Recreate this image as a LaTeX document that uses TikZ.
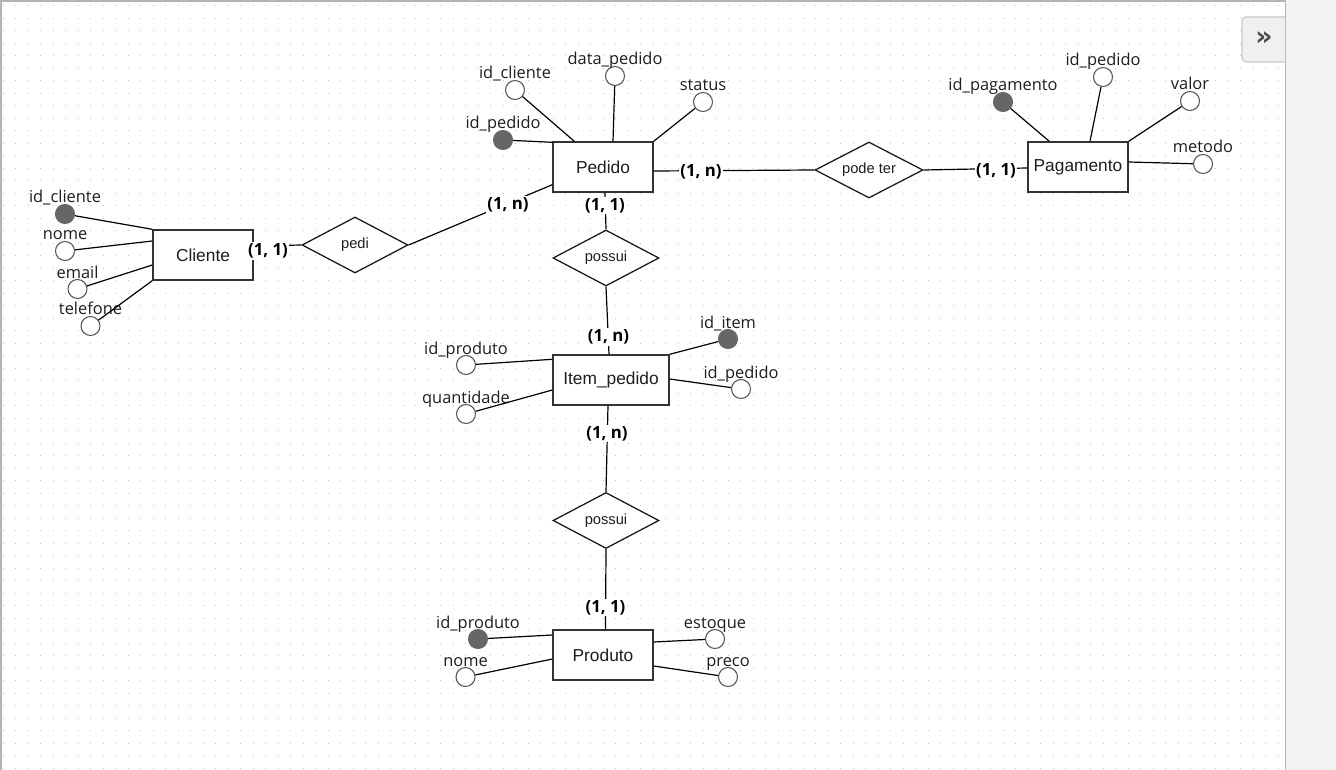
\documentclass[tikz,border=0pt]{standalone}
\usepackage{fontspec}
\setmainfont{Open Sans}
\newfontfamily\boxfont{Liberation Sans}
\newfontfamily\symfont{DejaVu Sans}
\usetikzlibrary{shapes.geometric,calc}

\definecolor{griddot}{HTML}{C4C4C4}
\definecolor{frameline}{HTML}{B4B4B4}
\definecolor{panelbg}{HTML}{F2F2F2}
\definecolor{buttonbg}{HTML}{F0F0F0}
\definecolor{buttonline}{HTML}{C8C8C8}
\definecolor{keyfill}{HTML}{666666}
\definecolor{attrline}{HTML}{555555}
\definecolor{inkdark}{HTML}{1E1E1E}

\tikzset{
  entity/.style={draw=black!80, line width=1.05pt, fill=white, rectangle,
    minimum width=75pt, minimum height=37.5pt, inner sep=0pt,
    font=\boxfont\fontsize{13}{15}\selectfont, text=inkdark},
  relation/.style={draw=black!90, line width=0.95pt, fill=white, diamond,
    aspect=1.9, minimum width=79.5pt, minimum height=42pt, inner sep=0pt,
    font=\boxfont\fontsize{11}{13}\selectfont, text=inkdark},
  attr/.style={circle, draw=attrline, line width=0.8pt, fill=white,
    minimum size=14.25pt, inner sep=0pt},
  keyattr/.style={attr, draw=keyfill, fill=keyfill},
  attrlabel/.style={anchor=base, inner sep=0pt, text=inkdark,
    font=\fontsize{12.3}{14}\selectfont},
  card/.style={fill=white, inner sep=1pt, text=black,
    font=\bfseries\fontsize{12.6}{14}\selectfont},
  link/.style={draw=black, line width=0.9pt},
}

% attribute: style, name, x, y, text
\newcommand\attrib[5]{%
  \node[#1] (#2) at (#3,#4) {};
  \node[attrlabel] (#2-t) at (#3,#4-11) {#5};}

\begin{document}
\begin{tikzpicture}[x=0.75pt, y=-0.75pt]
\useasboundingbox (0,0) rectangle (1336,770);
\fill[white] (0,0) rectangle (1336,770);

% dotted canvas grid
\foreach \k in {0,...,61}{
  \draw[griddot, line width=0.75pt, dash pattern=on 0.75pt off 8.625pt]
    (2.9,{5.7+12.5*\k}) -- (1284,{5.7+12.5*\k});
}

% canvas frame and side panel
\draw[frameline, line width=1.2pt] (0,0.8) -- (1285,0.8);
\draw[frameline, line width=1.2pt] (0.8,0) -- (0.8,770);
\fill[panelbg] (1285,0) rectangle (1336,770);
\draw[frameline, line width=1.2pt] (1285.5,0) -- (1285.5,770);
\draw[buttonline, fill=buttonbg, line width=0.8pt, rounded corners=3pt]
  (1285,17) -- (1242,17) -- (1242,62) -- (1285,62);
\node[text=black!70, font=\symfont\bfseries\fontsize{20}{20}\selectfont,
  inner sep=0pt] (expand) at (1264,39) {»};

% entities
\node[entity] (cliente) at (203,255) {Cliente};
\node[entity] (pedido) at (603,167) {Pedido};
\node[entity] (pagamento) at (1078,167) {Pagamento};
\node[entity, minimum width=87pt] (item) at (611,380) {Item\_pedido};
\node[entity] (produto) at (603,655) {Produto};

% relationships
\node[relation] (pedi) at (355,245) {pedi};
\node[relation, minimum width=81pt] (podeter) at (869,170) {pode ter};
\node[relation] (possuiA) at (606,258) {possui};
\node[relation] (possuiB) at (606,520.5) {possui};

% relationship connectors
\draw[link] ($(cliente.east)+(0,-9)$) -- (pedi.west);
\draw[link] (pedi.east) -- ($(pedido.south west)+(0,-8)$);
\draw[link] ($(pedido.east)+(0,4)$) -- (podeter.west);
\draw[link] (podeter.east) -- ($(pagamento.west)+(0,1)$);
\draw[link] ($(pedido.south)+(2,0)$) -- (possuiA.north);
\draw[link] (possuiA.south) -- ($(item.north)+(-2,0)$);
\draw[link] ($(item.south)+(-3,0)$) -- (possuiB.north);
\draw[link] (possuiB.south) -- ($(produto.north)+(2.5,0)$);

% cardinalities
\node[card] (c-cli) at (268,251) {(1, 1)};
\node[card] (c-pedi) at (508,205) {(1, n)};
\node[card] (c-ped-pag) at (701,171.5) {(1, n)};
\node[card] (c-pag) at (996,171) {(1, 1)};
\node[card] (c-ped-pos) at (605,205.5) {(1, 1)};
\node[card] (c-item-top) at (608.5,337) {(1, n)};
\node[card] (c-item-bot) at (607,433.5) {(1, n)};
\node[card] (c-prod) at (605.5,607.5) {(1, 1)};

% Cliente attributes
\attrib{keyattr}{cli-id}{65}{214}{id\_cliente}
\attrib{attr}{cli-nome}{65}{251}{nome}
\attrib{attr}{cli-email}{77.5}{289}{email}
\attrib{attr}{cli-tel}{90.5}{326}{telefone}
\draw[link] (cli-id) -- (cliente.north west);
\draw[link] (cli-nome) -- ($(cliente.west)+(0,-14)$);
\draw[link] (cli-email) -- ($(cliente.west)+(0,10)$);
\draw[link] (cli-tel) -- (cliente.south west);

% Pedido attributes
\attrib{keyattr}{ped-id}{503}{140}{id\_pedido}
\attrib{attr}{ped-cli}{515}{90}{id\_cliente}
\attrib{attr}{ped-data}{615}{76}{data\_pedido}
\attrib{attr}{ped-status}{703}{102}{status}
\draw[link] (ped-id) -- ($(pedido.north west)+(0,1)$);
\draw[link] (ped-cli) -- ($(pedido.north west)+(22,0)$);
\draw[link] (ped-data) -- ($(pedido.north)+(10,0)$);
\draw[link] (ped-status) -- (pedido.north east);

% Pagamento attributes
\attrib{keyattr}{pag-id}{1003}{102}{id\_pagamento}
\attrib{attr}{pag-ped}{1103}{77}{id\_pedido}
\attrib{attr}{pag-valor}{1190}{101}{valor}
\attrib{attr}{pag-metodo}{1203}{164}{metodo}
\draw[link] (pag-id) -- ($(pagamento.north west)+(22,0)$);
\draw[link] (pag-ped) -- ($(pagamento.north)+(12,0)$);
\draw[link] (pag-valor) -- (pagamento.north east);
\draw[link] (pag-metodo) -- ($(pagamento.east)+(0,-5)$);

% Item_pedido attributes
\attrib{attr}{item-prod}{466}{365}{id\_produto}
\attrib{attr}{item-qtd}{466}{414}{quantidade}
\attrib{keyattr}{item-id}{728}{339}{id\_item}
\attrib{attr}{item-ped}{741}{389}{id\_pedido}
\draw[link] (item-prod) -- ($(item.north west)+(0,5)$);
\draw[link] (item-qtd) -- ($(item.west)+(0,10)$);
\draw[link] (item-id) -- (item.north east);
\draw[link] (item-ped) -- ($(item.east)+(0,-1)$);

% Produto attributes
\attrib{keyattr}{prod-id}{478}{639}{id\_produto}
\attrib{attr}{prod-nome}{465.5}{677}{nome}
\attrib{attr}{prod-est}{715}{639}{estoque}
\attrib{attr}{prod-preco}{728}{677}{preco}
\draw[link] (prod-id) -- ($(produto.west)+(0,-20)$);
\draw[link] (prod-nome) -- ($(produto.west)+(0,4)$);
\draw[link] (prod-est) -- ($(produto.east)+(0,-13)$);
\draw[link] (prod-preco) -- ($(produto.east)+(0,11)$);
\end{tikzpicture}
\end{document}
